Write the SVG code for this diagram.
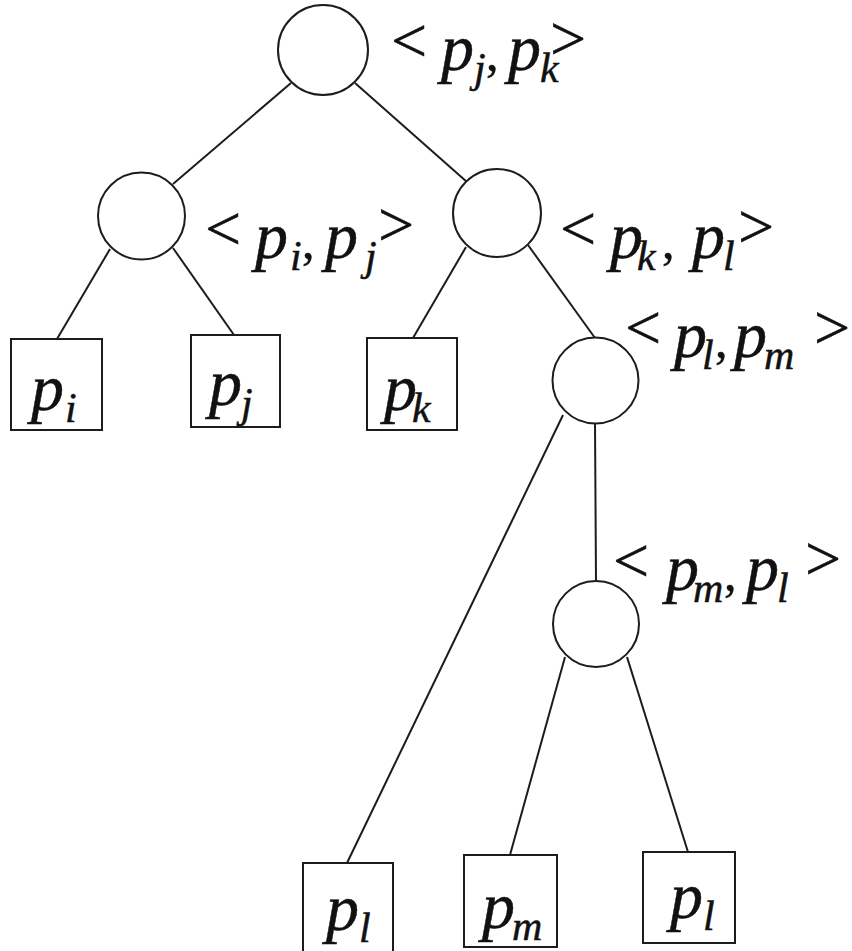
<svg xmlns="http://www.w3.org/2000/svg" width="852" height="951" viewBox="0 0 852 951">
<style>
.n{fill:#fff;stroke:#1c1c1c;stroke-width:2}
.e line{stroke:#1c1c1c;stroke-width:2}
text{font-family:"Liberation Serif","Times New Roman",serif;fill:#111;stroke:#111;stroke-width:0.5}
tspan.i{font-style:italic;font-size:66px}
tspan.s{font-style:italic;font-size:42px}
tspan.r{font-style:normal;font-size:64px}
tspan.c{font-style:normal;font-size:50px}
</style>
<rect width="852" height="951" fill="#fff"/>
<g class="e" id="connectors">
<line x1="291" y1="83" x2="173" y2="184"/>
<line x1="355" y1="83" x2="467" y2="182"/>
<line x1="110" y1="249" x2="57" y2="339"/>
<line x1="173" y1="248" x2="234" y2="335"/>
<line x1="466" y1="247" x2="413" y2="338"/>
<line x1="528" y1="245" x2="595" y2="338"/>
<line x1="563" y1="415" x2="347" y2="863"/>
<line x1="595" y1="423" x2="596" y2="581"/>
<line x1="565" y1="657" x2="510" y2="855"/>
<line x1="627" y1="657" x2="688" y2="852"/>
</g>
<g id="root">
<circle class="n" cx="323" cy="50" r="45"/>
<text><tspan class="r" x="391" y="62">&lt;</tspan><tspan class="i" x="441" y="70">p</tspan><tspan class="s" x="474" y="82">j</tspan><tspan class="c" x="486" y="70">,</tspan><tspan class="i" x="508" y="70">p</tspan><tspan class="s" x="540" y="82">k</tspan><tspan class="r" x="550" y="60">&gt;</tspan></text>
</g>
<g id="n_ij">
<circle class="n" cx="141.5" cy="216" r="43.5"/>
<text><tspan class="r" x="205" y="250">&lt;</tspan><tspan class="i" x="255" y="258">p</tspan><tspan class="s" x="290" y="270">i</tspan><tspan class="c" x="302" y="258">,</tspan><tspan class="i" x="325" y="258">p</tspan><tspan class="s" x="365" y="270">j</tspan><tspan class="r" x="378" y="246">&gt;</tspan></text>
</g>
<g id="n_kl">
<circle class="n" cx="497" cy="213" r="44"/>
<text><tspan class="r" x="560" y="250">&lt;</tspan><tspan class="i" x="610" y="258">p</tspan><tspan class="s" x="637" y="270">k</tspan><tspan class="c" x="662" y="258">,</tspan><tspan class="i" x="692" y="258">p</tspan><tspan class="s" x="723" y="270">l</tspan><tspan class="r" x="738" y="248">&gt;</tspan></text>
</g>
<g id="n_lm">
<circle class="n" cx="595.5" cy="380.5" r="43"/>
<text><tspan class="r" x="625" y="349">&lt;</tspan><tspan class="i" x="674" y="357">p</tspan><tspan class="s" x="702" y="369">l</tspan><tspan class="c" x="715" y="357">,</tspan><tspan class="i" x="734" y="357">p</tspan><tspan class="s" x="764" y="369">m</tspan><tspan class="r" x="814" y="349">&gt;</tspan></text>
</g>
<g id="n_ml">
<circle class="n" cx="596" cy="624" r="43"/>
<text><tspan class="r" x="613" y="582">&lt;</tspan><tspan class="i" x="666" y="590">p</tspan><tspan class="s" x="693" y="602">m</tspan><tspan class="c" x="724" y="590">,</tspan><tspan class="i" x="746" y="590">p</tspan><tspan class="s" x="777" y="602">l</tspan><tspan class="r" x="805" y="580">&gt;</tspan></text>
</g>
<g id="leaf_pi">
<rect class="n" x="11" y="339" width="91" height="91"/>
<text><tspan class="i" x="31" y="410">p</tspan><tspan class="s" x="65" y="422">i</tspan></text>
</g>
<g id="leaf_pj">
<rect class="n" x="191" y="335" width="89" height="92"/>
<text><tspan class="i" x="209" y="405">p</tspan><tspan class="s" x="241" y="417">j</tspan></text>
</g>
<g id="leaf_pk">
<rect class="n" x="367" y="338" width="90" height="92"/>
<text><tspan class="i" x="384" y="410">p</tspan><tspan class="s" x="412" y="422">k</tspan></text>
</g>
<g id="leaf_pl1">
<rect class="n" x="303" y="863" width="90" height="100"/>
<text><tspan class="i" x="326" y="930">p</tspan><tspan class="s" x="359" y="942">l</tspan></text>
</g>
<g id="leaf_pm">
<rect class="n" x="464" y="855" width="93" height="92"/>
<text><tspan class="i" x="482" y="928">p</tspan><tspan class="s" x="512" y="940">m</tspan></text>
</g>
<g id="leaf_pl2">
<rect class="n" x="643" y="852" width="92" height="91"/>
<text><tspan class="i" x="670" y="918">p</tspan><tspan class="s" x="703" y="930">l</tspan></text>
</g>
</svg>
